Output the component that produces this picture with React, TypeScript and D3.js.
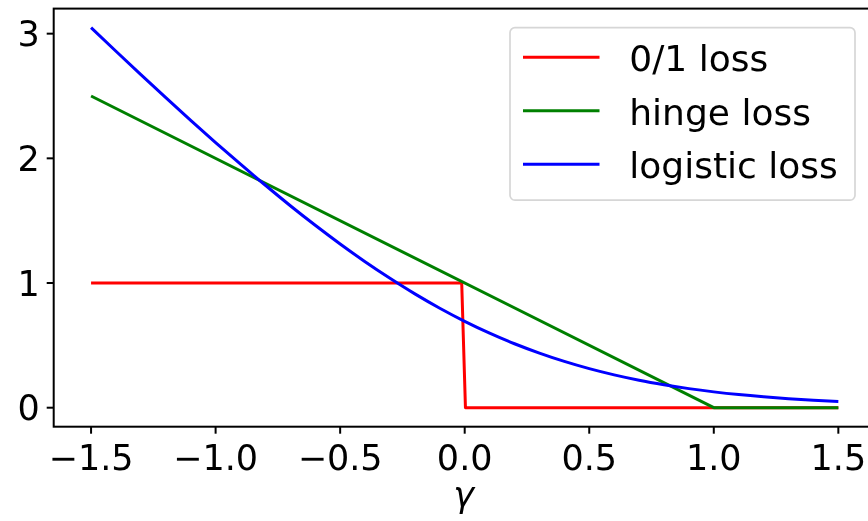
import React, { useEffect, useRef } from 'react';
import * as d3 from 'd3';

// values
const zeroOneX = [-1.5, -0.012, 0.003, 1.5];
const zeroOneY = [1, 1, 0, 0];
const hingeX = [-1.5, 1.0, 1.5];
const hingeY = [2.5, 0, 0];
const logisticX = [
  -1.5, -1.4, -1.3, -1.2, -1.1, -1.0, -0.9, -0.8, -0.7, -0.6, -0.5, -0.4, -0.3, -0.2, -0.1, 0.0,
  0.1, 0.2, 0.3, 0.4, 0.5, 0.6, 0.7, 0.8, 0.9, 1.0, 1.1, 1.2, 1.3, 1.4, 1.5,
];
const logisticY = [
  3.049, 2.859, 2.672, 2.487, 2.305, 2.127, 1.953, 1.784, 1.62, 1.463, 1.313, 1.171, 1.038, 0.913,
  0.798, 0.693, 0.598, 0.513, 0.438, 0.371, 0.313, 0.263, 0.22, 0.184, 0.153, 0.127, 0.105, 0.087,
  0.072, 0.059, 0.049,
];
const xTicks = [-1.5, -1.0, -0.5, 0.0, 0.5, 1.0, 1.5];
const yTicks = [0, 1, 2, 3];
const seriesNames = ['0/1 loss', 'hinge loss', 'logistic loss'];
const seriesColors = ['#ff0000', '#008000', '#0000ff'];

export default function App() {
  const ref = useRef<SVGSVGElement>(null);

  useEffect(() => {
    const width = 868;
    const height = 521;
    const font = "'DejaVu Sans', sans-serif";
    const svg = d3.select(ref.current);
    svg.selectAll('*').remove();
    svg.attr('width', width).attr('height', height);

    const left = 53.7;
    const right = 875.7;
    const top = 8.6;
    const bottom = 426.7;

    const x = d3.scaleLinear().domain([-1.65, 1.65]).range([left, right]);
    const y = d3.scaleLinear().domain([-0.1524, 3.201]).range([bottom, top]);

    const series = [
      zeroOneX.map((d, i) => [d, zeroOneY[i]]),
      hingeX.map((d, i) => [d, hingeY[i]]),
      logisticX.map((d, i) => [d, logisticY[i]]),
    ];

    const line = d3
      .line<number[]>()
      .x((d) => x(d[0]))
      .y((d) => y(d[1]));

    series.forEach((s, i) => {
      svg
        .append('path')
        .attr('d', (i === 2 ? line.curve(d3.curveMonotoneX) : line.curve(d3.curveLinear))(s))
        .attr('fill', 'none')
        .attr('stroke', seriesColors[i])
        .attr('stroke-width', 3)
        .attr('stroke-linejoin', 'round');
    });

    // frame
    svg
      .append('rect')
      .attr('x', left)
      .attr('y', top)
      .attr('width', right - left)
      .attr('height', bottom - top)
      .attr('fill', 'none')
      .attr('stroke', '#000')
      .attr('stroke-width', 2);

    // x ticks
    const xt = svg.append('g').selectAll('g').data(xTicks).enter().append('g');
    xt.append('line')
      .attr('x1', (d) => x(d))
      .attr('x2', (d) => x(d))
      .attr('y1', bottom)
      .attr('y2', bottom + 7)
      .attr('stroke', '#000')
      .attr('stroke-width', 2);
    xt.append('text')
      .attr('x', (d) => x(d))
      .attr('y', 470)
      .attr('text-anchor', 'middle')
      .style('font-family', font)
      .style('font-size', '35px')
      .text((d) => d3.format('.1f')(d).replace('-', '\u2212'));

    // y ticks
    const yt = svg.append('g').selectAll('g').data(yTicks).enter().append('g');
    yt.append('line')
      .attr('x1', left - 7)
      .attr('x2', left)
      .attr('y1', (d) => y(d))
      .attr('y2', (d) => y(d))
      .attr('stroke', '#000')
      .attr('stroke-width', 2);
    yt.append('text')
      .attr('x', left - 14)
      .attr('y', (d) => y(d) + 12.6)
      .attr('text-anchor', 'end')
      .style('font-family', font)
      .style('font-size', '35px')
      .text((d) => String(d));

    svg
      .append('text')
      .attr('x', x(0) - 1)
      .attr('y', 507)
      .attr('text-anchor', 'middle')
      .style('font-family', font)
      .style('font-style', 'italic')
      .style('font-size', '35px')
      .text('\u03b3');

    // legend
    const lg = svg.append('g');
    lg.append('rect')
      .attr('x', 510)
      .attr('y', 27.7)
      .attr('width', 345)
      .attr('height', 172.5)
      .attr('rx', 5)
      .attr('fill', 'rgba(255,255,255,0.8)')
      .attr('stroke', '#d6d6d6')
      .attr('stroke-width', 1.7);
    seriesNames.forEach((name, i) => {
      const ly = 57.3 + i * 53.5;
      lg.append('line')
        .attr('x1', 523)
        .attr('x2', 599.5)
        .attr('y1', ly)
        .attr('y2', ly)
        .attr('stroke', seriesColors[i])
        .attr('stroke-width', 3);
      lg.append('text')
        .attr('x', 629.3)
        .attr('y', ly + 13.7)
        .style('font-family', font)
        .style('font-size', '36px')
        .text(name);
    });
  });

  return (
    <div style={{ position: 'fixed', left: 0, top: 0 }}>
      <svg ref={ref} style={{ display: 'block' }}></svg>
    </div>
  );
}
